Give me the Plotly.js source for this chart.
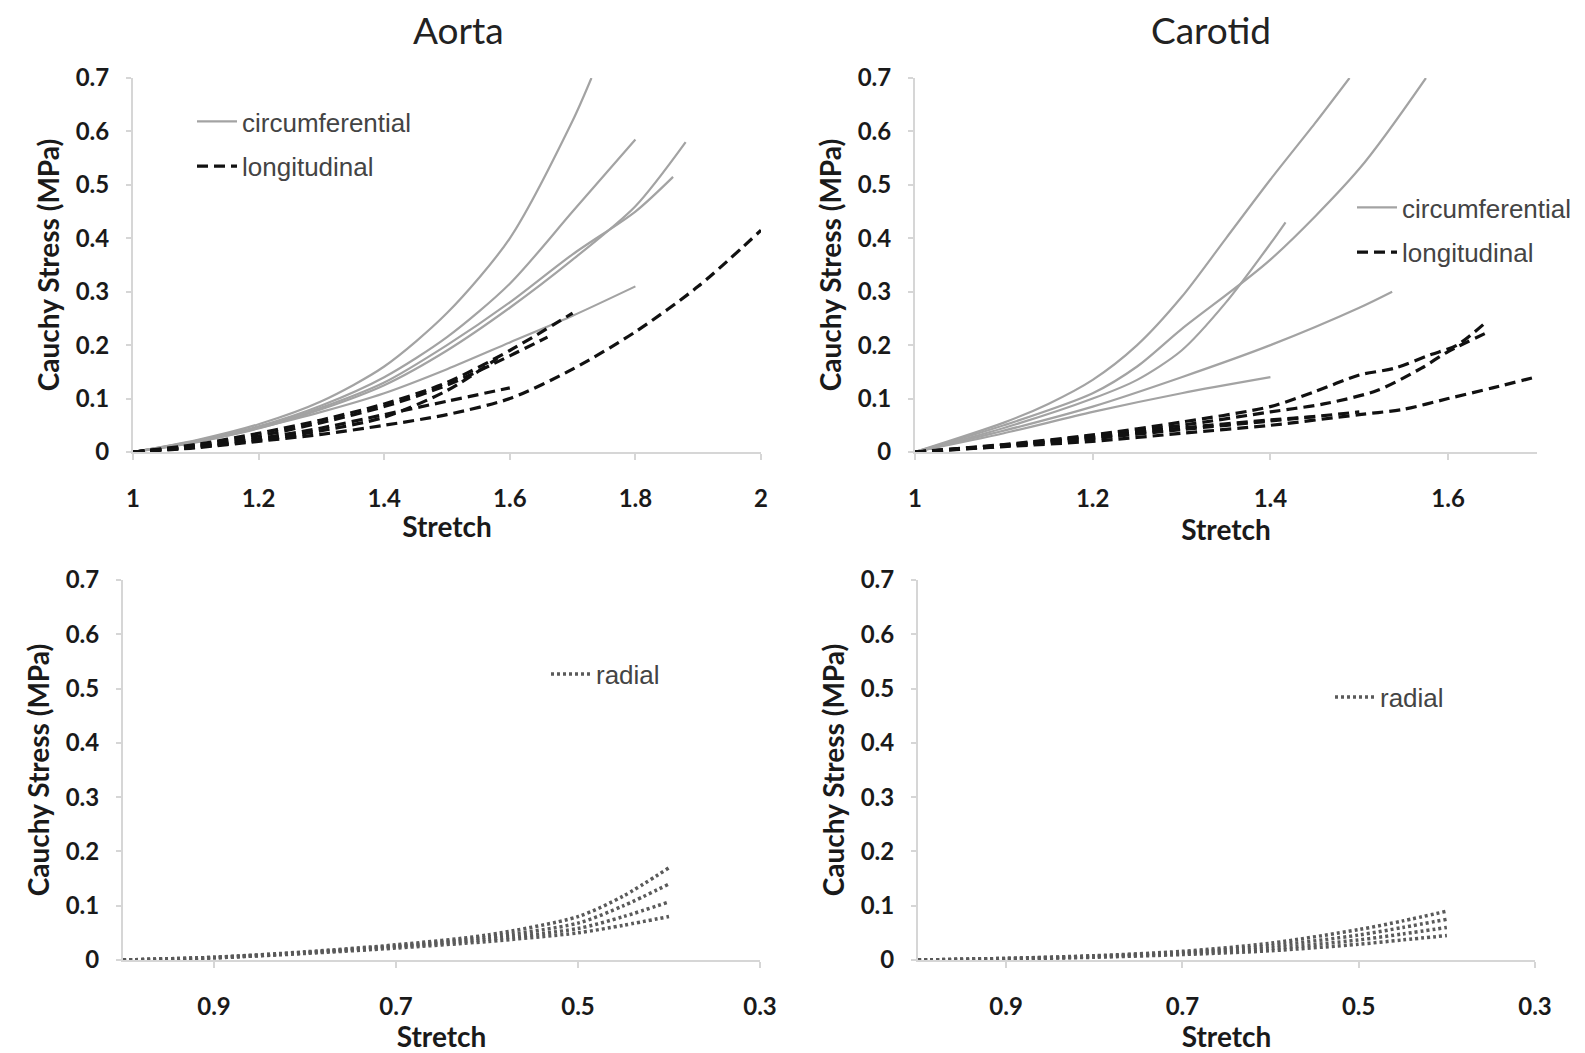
<!DOCTYPE html>
<html>
<head>
<meta charset="utf-8">
<script src="https://cdn.plot.ly/plotly-3.0.1.min.js"></script>
<style>html,body{margin:0;padding:0;background:#fff;}#chart{width:1585px;height:1053px;}</style>
</head>
<body>
<div id="chart"></div>
<script>
// ---------- Aorta (top left) ----------
const aortaCircX = [
  [1, 1.1, 1.2, 1.3, 1.4, 1.5, 1.6, 1.7, 1.73],
  [1, 1.1, 1.2, 1.3, 1.4, 1.5, 1.6, 1.7, 1.8],
  [1, 1.1, 1.2, 1.3, 1.4, 1.5, 1.6, 1.7, 1.8, 1.88],
  [1, 1.1, 1.2, 1.3, 1.4, 1.5, 1.6, 1.7, 1.8, 1.86],
  [1, 1.1, 1.2, 1.3, 1.4, 1.5, 1.6, 1.7, 1.8]
];
const aortaCircY = [
  [0, 0.022, 0.052, 0.095, 0.16, 0.26, 0.40, 0.62, 0.70],
  [0, 0.021, 0.048, 0.087, 0.14, 0.215, 0.315, 0.45, 0.585],
  [0, 0.019, 0.044, 0.08, 0.125, 0.19, 0.27, 0.36, 0.46, 0.58],
  [0, 0.02, 0.046, 0.083, 0.13, 0.20, 0.28, 0.37, 0.45, 0.515],
  [0, 0.018, 0.045, 0.075, 0.11, 0.155, 0.205, 0.255, 0.31]
];
const aortaLongX = [
  [1, 1.1, 1.2, 1.3, 1.4, 1.5, 1.6, 1.7, 1.8, 1.9, 2.0],
  [1, 1.1, 1.2, 1.3, 1.4, 1.5, 1.6, 1.7],
  [1, 1.1, 1.2, 1.3, 1.4, 1.5, 1.6, 1.66],
  [1, 1.1, 1.2, 1.3, 1.4, 1.5, 1.6],
  [1, 1.1, 1.2, 1.3, 1.4, 1.5, 1.58]
];
const aortaLongY = [
  [0, 0.008, 0.02, 0.033, 0.05, 0.07, 0.10, 0.155, 0.225, 0.31, 0.415],
  [0, 0.014, 0.035, 0.06, 0.09, 0.13, 0.19, 0.26],
  [0, 0.012, 0.03, 0.055, 0.085, 0.125, 0.18, 0.215],
  [0, 0.01, 0.025, 0.045, 0.07, 0.095, 0.12],
  [0, 0.009, 0.022, 0.04, 0.065, 0.115, 0.175]
];

// ---------- Carotid (top right) ----------
const carCircX = [
  [1, 1.1, 1.15, 1.2, 1.25, 1.3, 1.35, 1.4, 1.45, 1.489],
  [1, 1.1, 1.2, 1.25, 1.3, 1.4, 1.5, 1.575],
  [1, 1.1, 1.2, 1.25, 1.3, 1.35, 1.4, 1.417],
  [1, 1.1, 1.2, 1.3, 1.4, 1.5, 1.537],
  [1, 1.1, 1.2, 1.3, 1.4]
];
const carCircY = [
  [0, 0.055, 0.09, 0.135, 0.20, 0.29, 0.40, 0.51, 0.615, 0.70],
  [0, 0.05, 0.11, 0.16, 0.23, 0.36, 0.53, 0.70],
  [0, 0.045, 0.10, 0.135, 0.19, 0.28, 0.39, 0.43],
  [0, 0.04, 0.085, 0.14, 0.20, 0.27, 0.30],
  [0, 0.035, 0.075, 0.11, 0.14]
];
const carLongX = [
  [1, 1.1, 1.2, 1.3, 1.4, 1.45, 1.5, 1.54, 1.58, 1.61, 1.644],
  [1, 1.1, 1.2, 1.3, 1.4, 1.46, 1.52, 1.57, 1.6, 1.647],
  [1, 1.1, 1.2, 1.3, 1.4, 1.5, 1.55, 1.6, 1.65, 1.70],
  [1, 1.1, 1.2, 1.3, 1.4, 1.45],
  [1, 1.1, 1.2, 1.3, 1.4, 1.5]
];
const carLongY = [
  [0, 0.014, 0.032, 0.056, 0.085, 0.113, 0.144, 0.157, 0.182, 0.20, 0.245],
  [0, 0.013, 0.03, 0.05, 0.075, 0.09, 0.115, 0.157, 0.188, 0.226],
  [0, 0.01, 0.02, 0.035, 0.05, 0.07, 0.08, 0.10, 0.12, 0.141],
  [0, 0.012, 0.027, 0.045, 0.06, 0.066],
  [0, 0.011, 0.025, 0.042, 0.058, 0.075]
];

// ---------- Radial (bottom) ----------
const radX = [1.0, 0.9, 0.8, 0.7, 0.6, 0.5, 0.45, 0.4];
const aortaRadY = [
  [0, 0.005, 0.015, 0.028, 0.046, 0.08, 0.118, 0.17],
  [0, 0.005, 0.014, 0.026, 0.042, 0.068, 0.10, 0.14],
  [0, 0.004, 0.013, 0.024, 0.038, 0.058, 0.08, 0.107],
  [0, 0.004, 0.012, 0.022, 0.034, 0.05, 0.064, 0.08]
];
const carRadY = [
  [0, 0.003, 0.008, 0.016, 0.031, 0.056, 0.072, 0.09],
  [0, 0.003, 0.007, 0.014, 0.026, 0.046, 0.06, 0.075],
  [0, 0.002, 0.006, 0.012, 0.021, 0.037, 0.048, 0.06],
  [0, 0.002, 0.005, 0.01, 0.017, 0.029, 0.037, 0.045]
];

const titles = ['Aorta', 'Carotid'];
const yTitle = 'Cauchy Stress (MPa)';
const xTitle = 'Stretch';
const radTickVals = [0.9, 0.7, 0.5, 0.3];
const radTickText = ['0.9', '0.7', '0.5', '0.3'];
const legCirc = 'circumferential', legLong = 'longitudinal', legRad = 'radial';

// ---------- Build traces ----------
const CIRC = {color: '#a3a3a3', width: 2.2};
const LONG = {color: '#111111', width: 3.2, dash: '11px,6px'};
const RAD = {color: '#5a5a5a', width: 3.5, dash: '3px,3px'};
const traces = [];
function addGroup(xs, ys, xa, ya, line, name, legend, grp, sharedX) {
  ys.forEach((y, i) => {
    traces.push({
      type: 'scatter', mode: 'lines',
      x: sharedX ? xs : xs[i], y: y,
      xaxis: xa, yaxis: ya,
      line: Object.assign({shape: 'spline', smoothing: 0.8}, line),
      name: name, legend: legend, legendgroup: grp + legend,
      showlegend: i === 0, hoverinfo: 'x+y'
    });
  });
}
addGroup(aortaCircX, aortaCircY, 'x', 'y', CIRC, legCirc, 'legend', 'c', false);
addGroup(aortaLongX, aortaLongY, 'x', 'y', LONG, legLong, 'legend', 'l', false);
addGroup(carCircX, carCircY, 'x2', 'y2', CIRC, legCirc, 'legend2', 'c', false);
addGroup(carLongX, carLongY, 'x2', 'y2', LONG, legLong, 'legend2', 'l', false);
addGroup(radX, aortaRadY, 'x3', 'y3', RAD, legRad, 'legend3', 'r', true);
addGroup(radX, carRadY, 'x4', 'y4', RAD, legRad, 'legend4', 'r', true);

// ---------- Layout ----------
const W = 1585, H = 1053;
const px = v => v / W, py = v => 1 - v / H;
const tickFont = {family: 'Lato, sans-serif', size: 24, color: '#1a1a1a', weight: 'bold'};
const titleFont = {family: 'Lato, sans-serif', size: 28, color: '#1a1a1a', weight: 'bold'};
const legFont = {family: 'Liberation Sans, Arial, sans-serif', size: 26, color: '#444'};
const axLine = '#d6d6d6';

function xAxis(dom, anchor, range, standoff, extra) {
  return Object.assign({
    domain: dom, anchor: anchor, range: range,
    showline: true, linecolor: axLine, linewidth: 2,
    ticks: 'outside', ticklen: 6, tickcolor: axLine, tickwidth: 2,
    showgrid: false, zeroline: false,
    tickfont: tickFont, ticklabelstandoff: 18,
    title: {text: xTitle, font: titleFont, standoff: standoff}
  }, extra);
}
function yAxis(dom, anchor) {
  return {
    domain: dom, anchor: anchor, range: [0, 0.7], dtick: 0.1,
    showline: true, linecolor: axLine, linewidth: 2,
    ticks: 'outside', ticklen: 5, tickcolor: axLine, tickwidth: 2,
    showgrid: false, zeroline: false,
    tickfont: tickFont, ticklabelstandoff: 12,
    title: {text: yTitle, font: titleFont, standoff: 8}
  };
}
const topY = [py(452), py(78)];
const botY = [py(960), py(580)];
const legBase = {xanchor: 'left', font: legFont, bgcolor: 'rgba(0,0,0,0)', itemwidth: 40};

const layout = {
  width: W, height: H,
  margin: {l: 0, r: 0, t: 0, b: 0},
  paper_bgcolor: '#fff', plot_bgcolor: '#fff',
  showlegend: true,
  xaxis: xAxis([px(133), px(761)], 'y', [1, 2], 7, {dtick: 0.2, tick0: 1}),
  yaxis: yAxis(topY, 'x'),
  xaxis2: xAxis([px(915), px(1537)], 'y2', [1, 1.7], 6, {dtick: 0.2, tick0: 1}),
  yaxis2: yAxis(topY, 'x2'),
  xaxis3: xAxis([px(123), px(760)], 'y3', [1.0, 0.3], 0, {tickvals: radTickVals, ticktext: radTickText}),
  yaxis3: yAxis(botY, 'x3'),
  xaxis4: xAxis([px(918), px(1535)], 'y4', [1.0, 0.3], 0, {tickvals: radTickVals, ticktext: radTickText}),
  yaxis4: yAxis(botY, 'x4'),
  legend: Object.assign({}, legBase, {x: px(192), y: py(98), yanchor: 'top', tracegroupgap: 8}),
  legend2: Object.assign({}, legBase, {x: px(1352), y: py(184), yanchor: 'top', tracegroupgap: 8}),
  legend3: Object.assign({}, legBase, {x: px(546), y: py(674), yanchor: 'middle'}),
  legend4: Object.assign({}, legBase, {x: px(1330), y: py(697), yanchor: 'middle'}),
  annotations: [
    {text: titles[0], xref: 'paper', yref: 'paper', x: px(458), y: py(30), xanchor: 'center', yanchor: 'middle', showarrow: false,
     font: {family: 'Lato, sans-serif', size: 37, color: '#222'}},
    {text: titles[1], xref: 'paper', yref: 'paper', x: px(1211), y: py(30), xanchor: 'center', yanchor: 'middle', showarrow: false,
     font: {family: 'Lato, sans-serif', size: 37, color: '#222'}}
  ]
};

Plotly.newPlot('chart', traces, layout, {displayModeBar: false, staticPlot: true});
</script>
</body>
</html>
